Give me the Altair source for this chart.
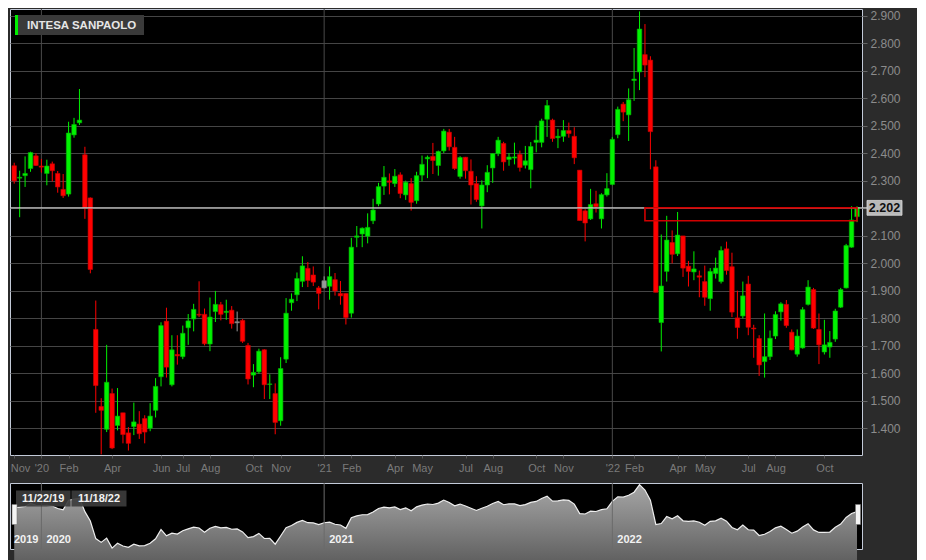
import json
import altair as alt
import pandas as pd

# ---------------- data (weekly candles) ----------------
first_date = "2019-11-29"

opens = [2.355, 2.310, 2.319, 2.345, 2.391, 2.354, 2.327, 2.362, 2.327, 2.269,
         2.252, 2.467, 2.511, 2.395, 2.238, 1.760, 1.480, 1.397, 1.527, 1.411,
         1.457, 1.384, 1.407, 1.416, 1.436, 1.401, 1.466, 1.588, 1.790, 1.559,
         1.669, 1.661, 1.766, 1.798, 1.815, 1.815, 1.707, 1.825, 1.850, 1.822,
         1.830, 1.784, 1.793, 1.702, 1.594, 1.606, 1.686, 1.560, 1.527, 1.428,
         1.652, 1.857, 1.886, 1.935, 1.982, 1.958, 1.911, 1.911, 1.917, 1.941,
         1.891, 1.891, 1.819, 2.095, 2.107, 2.099, 2.155, 2.216, 2.281, 2.300,
         2.290, 2.322, 2.249, 2.290, 2.228, 2.321, 2.380, 2.389, 2.356, 2.409,
         2.477, 2.422, 2.316, 2.386, 2.335, 2.290, 2.209, 2.285, 2.347, 2.399,
         2.436, 2.378, 2.383, 2.396, 2.357, 2.341, 2.440, 2.440, 2.524, 2.521,
         2.457, 2.462, 2.483, 2.462, 2.339, 2.191, 2.162, 2.217, 2.162, 2.249,
         2.287, 2.468, 2.579, 2.540, 2.665, 2.696, 2.759, 2.739, 2.351, 1.785,
         1.971, 2.076, 2.035, 2.100, 1.990, 1.969, 1.955, 1.934, 1.872, 1.963,
         1.934, 2.053, 1.988, 1.802, 1.809, 1.925, 1.765, 1.727, 1.643, 1.661,
         1.736, 1.824, 1.851, 1.750, 1.670, 1.693, 1.851, 1.905, 1.760, 1.678,
         1.696, 1.725, 1.841, 1.911, 2.059, 2.170]

highs = [2.366, 2.337, 2.389, 2.406, 2.400, 2.380, 2.377, 2.370, 2.336, 2.325,
         2.515, 2.529, 2.634, 2.424, 2.240, 1.865, 1.510, 1.704, 1.545, 1.547,
         1.457, 1.405, 1.494, 1.463, 1.448, 1.492, 1.583, 1.786, 1.839, 1.739,
         1.739, 1.774, 1.816, 1.853, 1.935, 1.836, 1.876, 1.900, 1.860, 1.868,
         1.845, 1.825, 1.798, 1.711, 1.634, 1.690, 1.688, 1.597, 1.564, 1.659,
         1.874, 1.891, 1.967, 2.026, 2.005, 1.989, 1.918, 1.953, 1.989, 1.965,
         1.936, 1.891, 2.093, 2.136, 2.131, 2.182, 2.235, 2.293, 2.354, 2.327,
         2.343, 2.331, 2.301, 2.310, 2.333, 2.392, 2.392, 2.438, 2.410, 2.489,
         2.489, 2.460, 2.390, 2.387, 2.378, 2.317, 2.302, 2.357, 2.400, 2.460,
         2.442, 2.401, 2.439, 2.410, 2.427, 2.441, 2.501, 2.526, 2.594, 2.526,
         2.489, 2.521, 2.512, 2.495, 2.339, 2.197, 2.271, 2.264, 2.255, 2.328,
         2.459, 2.570, 2.587, 2.636, 2.783, 2.916, 2.870, 2.753, 2.375, 2.105,
         2.173, 2.120, 2.187, 2.100, 2.009, 2.044, 1.974, 1.992, 1.983, 2.021,
         2.062, 2.079, 2.039, 1.901, 1.934, 1.955, 1.777, 1.739, 1.818, 1.756,
         1.826, 1.859, 1.867, 1.760, 1.760, 1.841, 1.939, 1.911, 1.818, 1.795,
         1.754, 1.835, 1.911, 2.071, 2.208, 2.208]

lows = [2.290, 2.168, 2.278, 2.333, 2.354, 2.330, 2.284, 2.298, 2.257, 2.238,
        2.243, 2.457, 2.503, 2.162, 1.964, 1.457, 1.306, 1.387, 1.325, 1.393,
        1.346, 1.320, 1.376, 1.362, 1.346, 1.390, 1.440, 1.553, 1.585, 1.553,
        1.632, 1.652, 1.704, 1.753, 1.805, 1.702, 1.681, 1.787, 1.793, 1.795,
        1.763, 1.753, 1.711, 1.560, 1.550, 1.599, 1.507, 1.507, 1.379, 1.410,
        1.638, 1.828, 1.863, 1.914, 1.914, 1.918, 1.833, 1.909, 1.868, 1.883,
        1.850, 1.778, 1.803, 2.059, 2.059, 2.073, 2.143, 2.208, 2.249, 2.251,
        2.278, 2.237, 2.231, 2.192, 2.217, 2.298, 2.310, 2.325, 2.319, 2.401,
        2.410, 2.340, 2.308, 2.308, 2.214, 2.224, 2.127, 2.259, 2.293, 2.390,
        2.337, 2.355, 2.360, 2.334, 2.345, 2.273, 2.404, 2.422, 2.460, 2.442,
        2.419, 2.442, 2.457, 2.361, 2.156, 2.080, 2.158, 2.185, 2.127, 2.243,
        2.284, 2.455, 2.517, 2.445, 2.591, 2.630, 2.677, 2.342, 1.895, 1.680,
        1.934, 2.000, 2.027, 1.951, 1.916, 1.939, 1.877, 1.846, 1.828, 1.945,
        1.927, 1.959, 1.805, 1.726, 1.800, 1.739, 1.657, 1.591, 1.585, 1.649,
        1.725, 1.792, 1.766, 1.684, 1.661, 1.690, 1.847, 1.762, 1.634, 1.669,
        1.657, 1.715, 1.838, 1.909, 2.057, 2.150]

closes = [2.300, 2.313, 2.327, 2.403, 2.356, 2.350, 2.354, 2.337, 2.278, 2.246,
          2.474, 2.505, 2.521, 2.203, 1.978, 1.556, 1.466, 1.568, 1.329, 1.445,
          1.378, 1.346, 1.424, 1.381, 1.387, 1.445, 1.553, 1.774, 1.623, 1.686,
          1.664, 1.746, 1.791, 1.833, 1.812, 1.708, 1.805, 1.851, 1.815, 1.826,
          1.781, 1.788, 1.717, 1.580, 1.604, 1.681, 1.559, 1.562, 1.422, 1.618,
          1.819, 1.870, 1.945, 1.991, 1.938, 1.932, 1.891, 1.937, 1.952, 1.900,
          1.882, 1.803, 2.059, 2.100, 2.128, 2.131, 2.194, 2.279, 2.313, 2.295,
          2.317, 2.254, 2.295, 2.222, 2.319, 2.360, 2.386, 2.374, 2.407, 2.481,
          2.424, 2.345, 2.385, 2.337, 2.285, 2.232, 2.285, 2.331, 2.399, 2.448,
          2.369, 2.387, 2.387, 2.349, 2.373, 2.425, 2.448, 2.518, 2.574, 2.454,
          2.462, 2.483, 2.472, 2.384, 2.156, 2.147, 2.214, 2.206, 2.250, 2.272,
          2.451, 2.560, 2.550, 2.595, 2.670, 2.852, 2.721, 2.479, 1.895, 1.918,
          2.085, 2.033, 2.103, 1.983, 1.971, 1.980, 1.950, 1.877, 1.971, 1.983,
          2.047, 1.974, 1.823, 1.767, 1.882, 1.768, 1.762, 1.631, 1.661, 1.728,
          1.814, 1.853, 1.774, 1.686, 1.736, 1.832, 1.914, 1.765, 1.704, 1.704,
          1.713, 1.827, 1.905, 2.065, 2.158, 2.202]

flat_idx = [41, 57]  # unchanged (grey) candles

tick_dates = ["2019-11-29", "2020-01-03", "2020-02-07", "2020-04-03", "2020-06-05",
              "2020-07-03", "2020-08-07", "2020-10-02", "2020-11-06", "2021-01-01",
              "2021-02-05", "2021-04-02", "2021-05-07", "2021-07-02", "2021-08-06",
              "2021-10-01", "2021-11-05", "2022-01-07", "2022-02-04", "2022-04-01",
              "2022-05-06", "2022-07-01", "2022-08-05", "2022-10-07"]
tick_labels = ["Nov", "'20", "Feb", "Apr", "Jun", "Jul", "Aug", "Oct", "Nov", "'21",
               "Feb", "Apr", "May", "Jul", "Aug", "Oct", "Nov", "'22", "Feb", "Apr",
               "May", "Jul", "Aug", "Oct"]
year_dates = ["2020-01-03", "2021-01-01", "2022-01-07"]
year_names = ["2020", "2021", "2022"]
range_labels = ["11/22/19", "11/18/22"]
price_ticks = [1.4, 1.5, 1.6, 1.7, 1.8, 1.9, 2.0, 2.1, 2.2, 2.3, 2.4, 2.5, 2.6, 2.7, 2.8, 2.9]
gap_start = "2022-02-18"
gap_low = 2.155
title_text = "INTESA SANPAOLO"

# ---------------- layout ----------------
W, H, NH = 852, 446, 66
FONT = "Liberation Sans"

dates = pd.date_range(first_date, periods=len(closes), freq="7D")
dirs = []
for i, (o, c) in enumerate(zip(opens, closes)):
    if i in flat_idx:
        dirs.append("flat")
    elif c >= o:
        dirs.append("up")
    else:
        dirs.append("down")
df = pd.DataFrame({"date": dates, "open": opens, "high": highs, "low": lows,
                   "close": closes, "dir": dirs})

x_dom = [alt.DateTime(year=2019, month=11, date=23, hours=14),
         alt.DateTime(year=2022, month=11, date=24, hours=10)]
xscale = alt.Scale(domain=x_dom, padding=0)
yscale = alt.Scale(domain=[1.3036, 2.9248], nice=False, zero=False, padding=0)

def dt(s):
    t = pd.Timestamp(s)
    return alt.DateTime(year=t.year, month=t.month, date=t.day)

label_expr = "''"
for d, lab in reversed(list(zip(tick_dates, tick_labels))):
    label_expr = f"timeFormat(datum.value, '%Y-%m-%d') == '{d}' ? {json.dumps(lab)} : ({label_expr})"

x_axis = alt.Axis(values=[dt(d) for d in tick_dates], labelExpr=label_expr, title=None,
                  grid=False, domain=False, ticks=True, tickSize=3, tickColor="#555555",
                  labelColor="#7a7a7a", labelFont=FONT, labelFontSize=11, labelPadding=4,
                  labelFlush=10, labelFlushOffset=4, labelOverlap=False, labelBound=False,
                  minExtent=25, maxExtent=25)
y_axis = alt.Axis(orient="right", values=price_ticks, format=".3f", title=None,
                  grid=True, gridColor="#454545", gridWidth=1, domain=False,
                  tickColor="#666666", tickSize=5, labelColor="#8c8c8c", labelFont=FONT,
                  labelFontSize=12, labelPadding=3, labelOverlap=False, labelBound=False,
                  minExtent=54, maxExtent=54)

color_scale = alt.Scale(domain=["up", "down", "flat"], range=["#00f200", "#ff0000", "#9a9a9a"])
stroke_scale = alt.Scale(domain=["up", "down", "flat"], range=["#00b400", "#c80000", "#808080"])

years_df = pd.DataFrame({"date": pd.to_datetime(year_dates), "name": year_names})

def X(field):
    return alt.X(field, scale=xscale, axis=x_axis)

def Y(field):
    return alt.Y(field, scale=yscale, axis=y_axis)

year_rules = alt.Chart(years_df).mark_rule(color="#4a4a4a", strokeWidth=1).encode(
    x=X("date:T"))
wicks = alt.Chart(df).mark_rule(strokeWidth=1).encode(
    x=X("date:T"), y=Y("low:Q"), y2="high:Q",
    color=alt.Color("dir:N", scale=color_scale, legend=None),
)
bodies = alt.Chart(df).mark_bar(width=4.5, strokeWidth=0.6).encode(
    x=X("date:T"), y=Y("open:Q"), y2="close:Q",
    color=alt.Color("dir:N", scale=color_scale, legend=None),
    stroke=alt.Stroke("dir:N", scale=stroke_scale, legend=None),
)

last_df = pd.DataFrame({"price": [closes[-1]], "label": [f"{closes[-1]:.3f}"],
                        "hi": [closes[-1] + 0.027], "lo": [closes[-1] - 0.027],
                        "x0": pd.to_datetime([gap_start]), "x1": [dates[-1]],
                        "gap": [gap_low]})
last_line = alt.Chart(last_df).mark_rule(color="#c8c8c8", strokeWidth=1.2).encode(
    y=Y("price:Q"))
gap_rect = alt.Chart(last_df).mark_rect(fill=None, fillOpacity=0, stroke="#d00000",
                                        strokeWidth=1.6).encode(
    x=X("x0:T"), x2="x1:T", y=Y("price:Q"), y2="gap:Q")
price_link = alt.Chart(last_df).mark_rule(color="#c8c8c8", strokeWidth=1.2).encode(
    x=alt.value(W), x2=alt.value(W + 5), y=Y("price:Q"))
price_box = alt.Chart(last_df).mark_rect(fill="#b9b9b9", stroke="#dcdcdc",
                                         strokeWidth=0.8).encode(
    x=alt.value(W + 5), x2=alt.value(W + 40), y=Y("hi:Q"), y2="lo:Q")
price_text = alt.Chart(last_df).mark_text(font=FONT, fontSize=12.5, fontWeight="bold",
                                          color="#111111", align="center",
                                          baseline="middle").encode(
    x=alt.value(W + 22.5), y=Y("price:Q"), text="label:N")

title_df = pd.DataFrame({"t": [title_text]})
title_box = alt.Chart(title_df).mark_rect(fill="#3a3a3a").encode(
    x=alt.value(5), x2=alt.value(134), y=alt.value(6), y2=alt.value(26))
title_bar = alt.Chart(title_df).mark_rect(fill="#00ee00").encode(
    x=alt.value(5), x2=alt.value(8), y=alt.value(6), y2=alt.value(26))
title_txt = alt.Chart(title_df).mark_text(font=FONT, fontSize=11.5, fontWeight="bold",
                                          color="#e6e6e6", align="left",
                                          baseline="middle").encode(
    x=alt.value(17), y=alt.value(16.5), text="t:N")

main = alt.layer(year_rules, wicks, bodies, last_line, gap_rect, price_link,
                 price_box, price_text, title_box, title_bar, title_txt).properties(
    width=W, height=H)

# ---------------- navigator ----------------
nscale = alt.Scale(domain=[1.307, 2.89], nice=False, zero=False, padding=0)

def NX(field):
    return alt.X(field, scale=xscale, axis=None)

grad = alt.Gradient(gradient="linear",
                    stops=[alt.GradientStop(color="#a6a6a6", offset=0),
                           alt.GradientStop(color="#3a3a3a", offset=1)],
                    x1=1, x2=1, y1=0, y2=1)
nav_area = alt.Chart(df).mark_area(color=grad).encode(
    x=NX("date:T"), y=alt.Y("close:Q", scale=nscale, axis=None), y2=alt.value(NH))
nav_line = alt.Chart(df).mark_line(color="#eeeeee", strokeWidth=1.2).encode(
    x=NX("date:T"), y=alt.Y("close:Q", scale=nscale, axis=None))
nav_years = alt.Chart(years_df).mark_rule(color="#6a6a6a", strokeWidth=1).encode(
    x=NX("date:T"))
nav_year_txt = alt.Chart(years_df).mark_text(font=FONT, fontSize=11, fontWeight="bold",
                                             color="#f2f2f2", align="left", dx=5,
                                             baseline="middle").encode(
    x=NX("date:T"), y=alt.value(56.5), text="name:N")
first_year_df = pd.DataFrame({"t": [str(dates[0].year)]})
nav_first_year = alt.Chart(first_year_df).mark_text(font=FONT, fontSize=11,
                                                    fontWeight="bold", color="#f2f2f2",
                                                    align="left", baseline="middle").encode(
    x=alt.value(4), y=alt.value(56.5), text="t:N")

range_df = pd.DataFrame({"t": range_labels, "x0": [6, 61.5], "x1": [60.5, 116.5],
                         "xc": [33.2, 89]})
range_box = alt.Chart(range_df).mark_rect(fill="#3c3c3c", opacity=0.92).encode(
    x=alt.X("x0:Q", scale=None), x2="x1:Q", y=alt.value(7.5), y2=alt.value(23.5))
range_txt = alt.Chart(range_df).mark_text(font=FONT, fontSize=11, fontWeight="bold",
                                          color="#f2f2f2", align="center",
                                          baseline="middle").encode(
    x=alt.X("xc:Q", scale=None), y=alt.value(15.8), text="t:N")

handle_df = pd.DataFrame({"x0": [2.0, W - 6.5], "x1": [7.0, W - 1.5]})
handles = alt.Chart(handle_df).mark_rect(fill="#f4f4f4", stroke="#777777",
                                         strokeWidth=0.6).encode(
    x=alt.X("x0:Q", scale=None), x2="x1:Q", y=alt.value(21.5), y2=alt.value(41.5))

nav = alt.layer(nav_area, nav_line, nav_years, nav_year_txt, nav_first_year,
                range_box, range_txt, handles).properties(width=W, height=NH)

chart = alt.vconcat(main, nav, spacing=0, padding=0).configure(
    background="#2b2b2b"
).configure_view(
    fill="#000000", stroke="#c3cad8", strokeWidth=1
).configure_axis(
    labelOverlap=False, labelBound=False
)

chart.save("out.html", embed_options={"renderer": "svg", "actions": False})
